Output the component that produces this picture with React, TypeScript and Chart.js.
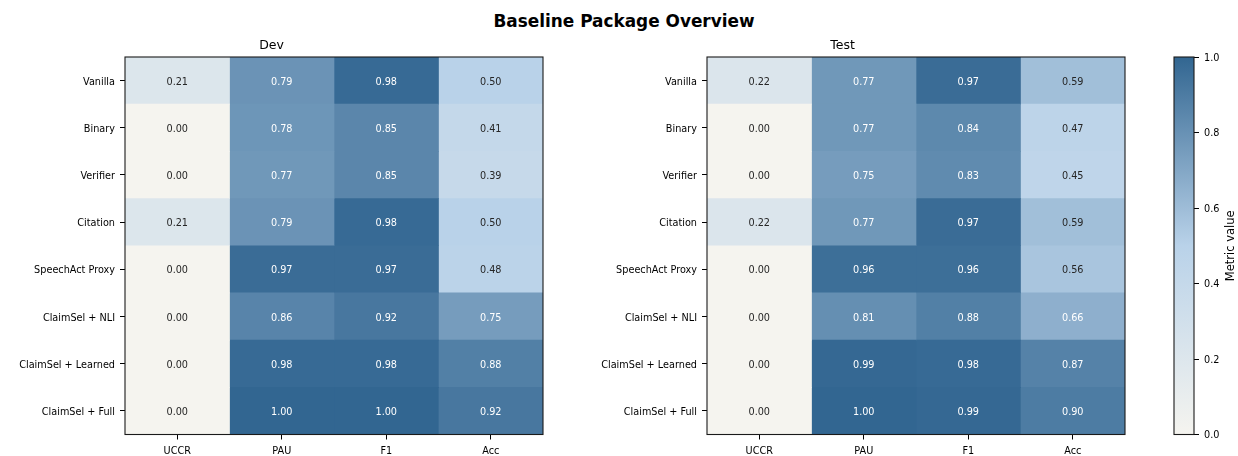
import React, { useEffect, useRef } from "react";
import { Chart, registerables } from "chart.js";

Chart.register(...registerables);

const FONT = "'DejaVu Sans', sans-serif";

const rows = [
  "Vanilla",
  "Binary",
  "Verifier",
  "Citation",
  "SpeechAct Proxy",
  "ClaimSel + NLI",
  "ClaimSel + Learned",
  "ClaimSel + Full",
];
const metrics = ["UCCR", "PAU", "F1", "Acc"];

const devUCCR = [0.21, 0.0, 0.0, 0.21, 0.0, 0.0, 0.0, 0.0];
const devPAU = [0.79, 0.78, 0.77, 0.79, 0.97, 0.86, 0.98, 1.0];
const devF1 = [0.98, 0.85, 0.85, 0.98, 0.97, 0.92, 0.98, 1.0];
const devAcc = [0.5, 0.41, 0.39, 0.5, 0.48, 0.75, 0.88, 0.92];

const testUCCR = [0.22, 0.0, 0.0, 0.22, 0.0, 0.0, 0.0, 0.0];
const testPAU = [0.77, 0.77, 0.75, 0.77, 0.96, 0.81, 0.99, 1.0];
const testF1 = [0.97, 0.84, 0.83, 0.97, 0.96, 0.88, 0.98, 0.99];
const testAcc = [0.59, 0.47, 0.45, 0.59, 0.56, 0.66, 0.87, 0.9];

const colorbarRange = [0, 1];
const colorbarTicks = [0, 0.2, 0.4, 0.6, 0.8, 1.0];

const devValues = [devUCCR, devPAU, devF1, devAcc];
const testValues = [testUCCR, testPAU, testF1, testAcc];

const cmapStops: [number, number[]][] = [
  [0, [245, 244, 239]],
  [0.5, [185, 210, 233]],
  [1, [50, 102, 145]],
];

function cmap(v: number): string {
  const t = Math.max(0, Math.min(1, v));
  for (let k = 0; k < cmapStops.length - 1; k++) {
    const [a, ca] = cmapStops[k];
    const [b, cb] = cmapStops[k + 1];
    if (t <= b) {
      const f = (t - a) / (b - a);
      const c = ca.map((x, i) => Math.round(x + (cb[i] - x) * f));
      return `rgb(${c[0]},${c[1]},${c[2]})`;
    }
  }
  const c = cmapStops[cmapStops.length - 1][1];
  return `rgb(${c[0]},${c[1]},${c[2]})`;
}

const framePlugin = {
  id: "frame",
  afterDatasetsDraw(chart: any) {
    const { ctx, chartArea: a } = chart;
    ctx.save();
    ctx.strokeStyle = "#1a1a1a";
    ctx.lineWidth = 1.1;
    ctx.strokeRect(a.left, a.top, a.right - a.left, a.bottom - a.top);
    ctx.restore();
  },
};

function cellLabelPlugin(values: number[][]) {
  return {
    id: "cellLabels",
    afterDatasetsDraw(chart: any) {
      const { ctx } = chart;
      ctx.save();
      ctx.font = `9.7px ${FONT}`;
      ctx.textAlign = "center";
      ctx.textBaseline = "middle";
      chart.data.datasets.forEach((_ds: any, j: number) => {
        const meta = chart.getDatasetMeta(j);
        meta.data.forEach((el: any, i: number) => {
          const v = values[j][i];
          const p = el.getCenterPoint();
          ctx.fillStyle = v > 0.6 ? "#ffffff" : "#262626";
          ctx.fillText(v.toFixed(2), p.x, p.y + 1.5);
        });
      });
      ctx.restore();
    },
  };
}

function heatmapConfig(title: string, values: number[][], yWidth: number, padRight: number): any {
  const tickFont = { family: FONT, size: 9.7 };
  return {
    type: "bar",
    data: {
      labels: rows,
      datasets: metrics.map((m, j) => ({
        label: m,
        data: rows.map(() => 1),
        backgroundColor: (ctx: any) => cmap(values[j][ctx.dataIndex]),
        borderWidth: 0,
        barPercentage: 1,
        categoryPercentage: 1,
      })),
    },
    options: {
      indexAxis: "y",
      animation: false,
      responsive: false,
      devicePixelRatio: 1,
      layout: { padding: { left: 0, right: padRight, top: 0, bottom: 0 } },
      plugins: {
        legend: { display: false },
        tooltip: { enabled: false },
        title: {
          display: true,
          text: title,
          color: "#000",
          font: { family: FONT, size: 12.5, weight: "normal" },
          padding: { top: 8, bottom: 4 },
        },
      },
      scales: {
        x: {
          type: "linear",
          stacked: true,
          min: 0,
          max: metrics.length,
          afterBuildTicks: (s: any) => {
            s.ticks = metrics.map((_m, j) => ({ value: j + 0.5 }));
          },
          afterFit: (s: any) => {
            s.height = 21.5;
          },
          ticks: {
            callback: (v: any) => metrics[Math.floor(Number(v))],
            font: tickFont,
            color: "#000",
            padding: 6,
            maxRotation: 0,
            autoSkip: false,
          },
          grid: { drawOnChartArea: false, tickLength: 5, color: "#000", lineWidth: 1 },
          border: { display: false },
        },
        y: {
          type: "category",
          stacked: true,
          afterFit: (s: any) => {
            s.width = yWidth;
          },
          ticks: { font: tickFont, color: "#000", padding: 5, autoSkip: false, labelOffset: 1.5 },
          grid: { offset: false, drawOnChartArea: false, tickLength: 5, color: "#000", lineWidth: 1 },
          border: { display: false },
        },
      },
    },
    plugins: [framePlugin, cellLabelPlugin(values)],
  };
}

function colorbarConfig(): any {
  const labelPlugin = {
    id: "cbarLabel",
    afterDraw(chart: any) {
      const { ctx, chartArea: a } = chart;
      ctx.save();
      ctx.translate(91, (a.top + a.bottom) / 2);
      ctx.rotate(-Math.PI / 2);
      ctx.font = `11.5px ${FONT}`;
      ctx.fillStyle = "#000";
      ctx.textAlign = "center";
      ctx.textBaseline = "middle";
      ctx.fillText("Metric value", 0, 0);
      ctx.restore();
    },
  };
  return {
    type: "bar",
    data: {
      labels: [""],
      datasets: [
        {
          data: [colorbarRange],
          borderWidth: 0,
          barPercentage: 1,
          categoryPercentage: 1,
          backgroundColor: (ctx: any) => {
            const chart = ctx.chart;
            const a = chart.chartArea;
            if (!a) return cmap(0.5);
            const ys = chart.scales.y;
            const g = chart.ctx.createLinearGradient(
              0,
              ys.getPixelForValue(colorbarRange[0]),
              0,
              ys.getPixelForValue(colorbarRange[1])
            );
            cmapStops.forEach(([s]) => g.addColorStop(s, cmap(s)));
            return g;
          },
        },
      ],
    },
    options: {
      animation: false,
      responsive: false,
      devicePixelRatio: 1,
      layout: { padding: { left: 34, right: 0, top: 27, bottom: 21.5 } },
      plugins: { legend: { display: false }, tooltip: { enabled: false }, title: { display: false } },
      scales: {
        x: { display: false },
        y: {
          type: "linear",
          position: "right",
          min: colorbarRange[0],
          max: colorbarRange[1],
          afterBuildTicks: (s: any) => {
            s.ticks = colorbarTicks.map((v) => ({ value: v }));
          },
          afterFit: (s: any) => {
            s.width = 44;
          },
          ticks: {
            callback: (v: any) => Number(v).toFixed(1),
            font: { family: FONT, size: 9.7 },
            color: "#000",
            padding: 5,
            labelOffset: 1,
          },
          grid: { drawOnChartArea: false, tickLength: 5, color: "#000", lineWidth: 1 },
          border: { display: false },
        },
      },
    },
    plugins: [framePlugin, labelPlugin],
  };
}

function ChartCanvas(props: { config: () => any; left: number; top: number; width: number; height: number }) {
  const ref = useRef<HTMLCanvasElement | null>(null);
  useEffect(() => {
    if (!ref.current) return;
    const chart = new Chart(ref.current, props.config());
    return () => chart.destroy();
  }, []);
  return (
    <canvas
      ref={ref}
      width={props.width}
      height={props.height}
      style={{
        position: "absolute",
        left: props.left,
        top: props.top,
        width: props.width,
        height: props.height,
      }}
    />
  );
}

export default function App() {
  return (
    <div
      style={{
        position: "absolute",
        left: 0,
        top: 0,
        width: 1238,
        height: 456,
        background: "#fff",
        overflow: "hidden",
      }}
    >
      <div
        style={{
          position: "absolute",
          left: 5,
          top: 11,
          width: 1238,
          textAlign: "center",
          fontFamily: FONT,
          fontWeight: "bold",
          fontSize: 16.9,
          lineHeight: "20px",
          color: "#000",
        }}
      >
        Baseline Package Overview
      </div>
      <ChartCanvas config={() => heatmapConfig("Dev", devValues, 125, 17)} left={0} top={30} width={560} height={426} />
      <ChartCanvas config={() => heatmapConfig("Test", testValues, 147, 15)} left={560} top={30} width={580} height={426} />
      <ChartCanvas config={colorbarConfig} left={1140} top={30} width={98} height={426} />
    </div>
  );
}
